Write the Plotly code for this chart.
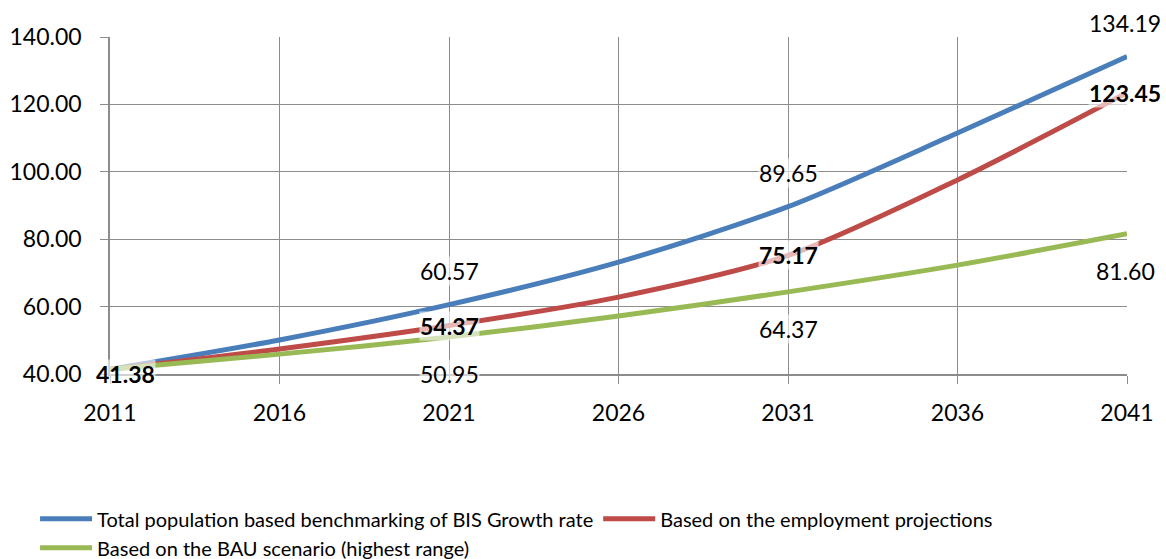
import plotly.graph_objects as go

years = [2011, 2016, 2021, 2026, 2031, 2036, 2041]
bis_growth = [41.38, 50.1, 60.57, 73.2, 89.65, 111.5, 134.19]
employment = [41.38, 47.4, 54.37, 62.8, 75.17, 97.6, 123.45]
bau_scenario = [41.38, 45.9, 50.95, 57.2, 64.37, 72.3, 81.60]

series_names = [
    "Total population based benchmarking of BIS Growth rate",
    "Based on the employment projections",
    "Based on the BAU scenario (highest range)",
]
colors = ["#4A7EBB", "#BE4B48", "#98B954"]

FONT = "Lato"
GRID = "#8C8C8C"

fig = go.Figure()
for name, vals, col in zip(series_names, [bis_growth, employment, bau_scenario], colors):
    fig.add_trace(go.Scatter(
        x=years, y=vals, name=name, mode="lines",
        line=dict(color=col, width=5, shape="spline", smoothing=0.8),
    ))

# value labels at the decade points: (year, value, bold, x shift, y shift)
labelled_years = [2021, 2031, 2041]
annots = []
for yr in labelled_years:
    i = years.index(yr)
    xs = -2 if yr == 2041 else 0
    annots.append((yr, bis_growth[i], False, xs, 34))
    annots.append((yr, employment[i], True, xs, 0))
    annots.append((yr, bau_scenario[i], False, xs, -37))
annots.append((2011, employment[0], True, 15, -5))

for x, v, bold, xs, ys in annots:
    txt = f"{v:.2f}"
    fig.add_annotation(
        x=x, y=v, xref="x", yref="y", text=f"<b>{txt}</b>" if bold else txt,
        showarrow=False, xshift=xs, yshift=ys,
        font=dict(family=FONT, size=23, color="#000000"),
        bgcolor="rgba(255,255,255,0.6)", borderpad=0,
    )

fig.update_layout(
    width=1166, height=559,
    margin=dict(l=110, r=39, t=37, b=185, autoexpand=False),
    paper_bgcolor="white", plot_bgcolor="white",
    font=dict(family=FONT, size=23, color="#000000"),
    showlegend=True,
    legend=dict(
        orientation="h", x=-0.0737, xanchor="left",
        y=-0.372, yanchor="top",
        font=dict(family=FONT, size=20, color="#000000"),
        tracegroupgap=0, itemwidth=52,
    ),
)
fig.update_xaxes(
    range=[2011, 2041], tickvals=years, ticktext=[str(y) for y in years],
    showgrid=True, gridcolor=GRID, gridwidth=1,
    showline=True, linecolor=GRID, linewidth=1.5,
    ticks="outside", ticklen=8, tickcolor=GRID, ticklabelstandoff=10,
    zeroline=False,
)
fig.update_yaxes(
    range=[40, 140], tickvals=[40, 60, 80, 100, 120, 140],
    tickformat=".2f",
    showgrid=True, gridcolor=GRID, gridwidth=1,
    showline=True, linecolor=GRID, linewidth=1.5,
    ticks="outside", ticklen=8, tickcolor=GRID, ticklabelstandoff=14,
    zeroline=False,
)

fig.write_html("out.html")
